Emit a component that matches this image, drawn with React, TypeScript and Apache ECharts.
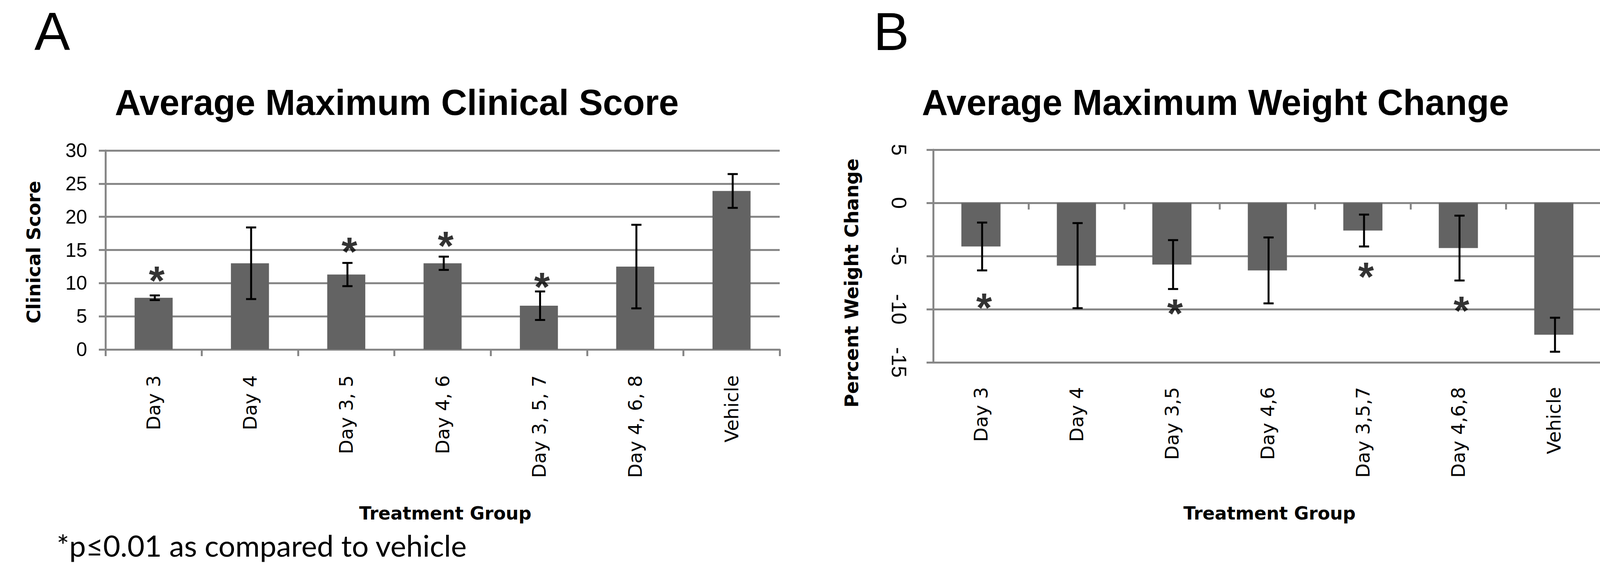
import React, { useEffect, useRef } from "react";
import * as echarts from "echarts";

// ---- Data ----
const scoreCategories = ["Day 3", "Day 4", "Day 3, 5", "Day 4, 6", "Day 3, 5, 7", "Day 4, 6, 8", "Vehicle"];
const scoreMeans = [7.8, 13.0, 11.3, 13.0, 6.6, 12.5, 23.9];
const scoreErrors = [0.35, 5.4, 1.75, 1.0, 2.15, 6.3, 2.55];
const scoreStars: (number | null)[] = [11.7, null, 16.1, 17.0, 10.8, null, null];
const scoreAxis = { min: 0, max: 30, interval: 5 };

const weightCategories = ["Day 3", "Day 4", "Day 3,5", "Day 4,6", "Day 3,5,7", "Day 4,6,8", "Vehicle"];
const weightMeans = [-4.1, -5.9, -5.8, -6.35, -2.6, -4.25, -12.4];
const weightErrors = [2.25, 4.0, 2.3, 3.1, 1.5, 3.05, 1.6];
const weightStars: (number | null)[] = [-9.0, null, -9.55, null, -6.1, -9.3, null];
const weightAxis = { min: -15, max: 5, interval: 5 };

const titleA = "Average Maximum Clinical Score";
const titleB = "Average Maximum Weight Change";
const yNameA = "Clinical Score";
const yNameB = "Percent Weight Change";
const xName = "Treatment Group";
const footnote = "*p≤0.01 as compared to vehicle";

// ---- Styles ----
const BAR = "#636363";
const GRID = "#878787";
const LW = 5;
const SANS = "Liberation Sans, Arial, sans-serif";
const WIDE = "DejaVu Sans, sans-serif";

const errorRender = (params: any, api: any) => {
  const i = api.value(0);
  const pLo = api.coord([i, api.value(1)]);
  const pHi = api.coord([i, api.value(2)]);
  const half = 13;
  const x = pLo[0] + 3;
  const style = { stroke: "#000", lineWidth: 5 };
  return {
    type: "group",
    children: [
      { type: "line", shape: { x1: x, y1: pLo[1], x2: x, y2: pHi[1] }, style },
      { type: "line", shape: { x1: x - half, y1: pLo[1], x2: x + half, y2: pLo[1] }, style },
      { type: "line", shape: { x1: x - half, y1: pHi[1], x2: x + half, y2: pHi[1] }, style },
    ],
  };
};

const starData = (arr: (number | null)[]) =>
  arr.map((v, i) => (v == null ? null : [i, v])).filter((d) => d != null);

const starSeries = (xi: number, yi: number, arr: (number | null)[]) => ({
  type: "scatter",
  xAxisIndex: xi,
  yAxisIndex: yi,
  data: starData(arr),
  symbolSize: 1,
  itemStyle: { color: "rgba(0,0,0,0)" },
  silent: true,
  z: 6,
  label: {
    show: true,
    position: "inside",
    formatter: "*",
    fontSize: 104,
    fontWeight: "bold",
    fontFamily: SANS,
    color: "#000",
    offset: [8, 23],
  },
});

const gtext = (text: string, x: number, y: number, fontSize: number, fontFamily: string, fontWeight: string, align: string, rotation = 0) => ({
  type: "text",
  x,
  y,
  rotation,
  silent: true,
  style: {
    text,
    fontSize,
    fontFamily,
    fontWeight,
    fill: "#000",
    align,
    verticalAlign: "middle",
    textAlign: align,
    textVerticalAlign: "middle",
  },
});

export default function App() {
  const ref = useRef<HTMLDivElement>(null);
  useEffect(() => {
    if (!ref.current) return;
    const chart = echarts.init(ref.current, null, { renderer: "svg" });
    const catLabel = { fontSize: 48, fontFamily: WIDE, color: "#000", rotate: 90, interval: 0 };
    const lineStyle = { color: GRID, width: LW };
    const option: any = {
      animation: false,
      backgroundColor: "#fff",
      grid: [
        { left: 270, top: 385, width: 1726, height: 509 },
        { left: 2389, top: 383, width: 1711, height: 544 },
      ],
      xAxis: [
        {
          gridIndex: 0,
          type: "category",
          data: scoreCategories,
          position: "bottom",
          axisLine: { lineStyle },
          axisTick: { show: true, length: 17, lineStyle },
          axisLabel: { ...catLabel, margin: 66 },
        },
        {
          gridIndex: 1,
          type: "category",
          data: weightCategories,
          position: "top",
          axisLine: { onZero: true, lineStyle },
          axisTick: { show: true, inside: true, length: 17, lineStyle },
          axisLabel: { show: false },
        },
        {
          gridIndex: 1,
          type: "category",
          data: weightCategories,
          position: "bottom",
          axisLine: { show: false, onZero: false },
          axisTick: { show: false },
          axisLabel: { ...catLabel, margin: 63 },
        },
      ],
      yAxis: [
        {
          gridIndex: 0,
          type: "value",
          ...scoreAxis,
          axisLine: { show: true, lineStyle },
          axisTick: { show: true, length: 17, lineStyle },
          splitLine: { show: true, lineStyle },
          axisLabel: { fontSize: 50, fontFamily: SANS, color: "#000", margin: 47 },
        },
        {
          gridIndex: 1,
          type: "value",
          ...weightAxis,
          axisLine: { show: true, onZero: false, lineStyle },
          axisTick: { show: true, length: 17, lineStyle },
          splitLine: { show: true, lineStyle },
          axisLabel: { fontSize: 54, fontFamily: SANS, color: "#000", margin: 60, rotate: -90 },
        },
      ],
      series: [
        {
          type: "bar",
          xAxisIndex: 0,
          yAxisIndex: 0,
          data: scoreMeans,
          barWidth: "39.5%",
          itemStyle: { color: BAR },
          silent: true,
        },
        {
          type: "custom",
          xAxisIndex: 0,
          yAxisIndex: 0,
          renderItem: errorRender,
          data: scoreMeans.map((m, i) => [i, m - scoreErrors[i], m + scoreErrors[i]]),
          encode: { x: 0, y: [1, 2] },
          silent: true,
          z: 5,
        },
        starSeries(0, 0, scoreStars),
        {
          type: "bar",
          xAxisIndex: 1,
          yAxisIndex: 1,
          data: weightMeans,
          barWidth: "41%",
          itemStyle: { color: BAR },
          silent: true,
        },
        {
          type: "custom",
          xAxisIndex: 1,
          yAxisIndex: 1,
          renderItem: errorRender,
          data: weightMeans.map((m, i) => [i, m - weightErrors[i], m + weightErrors[i]]),
          encode: { x: 0, y: [1, 2] },
          silent: true,
          z: 5,
        },
        starSeries(1, 1, weightStars),
      ],
      graphic: [
        gtext("A", 88, 80, 137, SANS, "normal", "left"),
        gtext("B", 2236, 80, 137, SANS, "normal", "left"),
        gtext(titleA, 294, 262, 92, SANS, "bold", "left"),
        gtext(titleB, 2360, 262, 92, SANS, "bold", "left"),
        gtext(yNameA, 86, 645, 48, WIDE, "bold", "center", Math.PI / 2),
        gtext(yNameB, 2180, 724, 48, WIDE, "bold", "center", Math.PI / 2),
        gtext(xName, 1140, 1313, 46, WIDE, "bold", "center"),
        gtext(xName, 3250, 1313, 46, WIDE, "bold", "center"),
        gtext(footnote, 145, 1394, 76, "Lato, sans-serif", "normal", "left"),
      ],
    };
    chart.setOption(option);
    return () => chart.dispose();
  }, []);
  return (
    <div
      ref={ref}
      style={{ position: "absolute", left: 0, top: 0, width: 4130, height: 1476, background: "#fff" }}
    />
  );
}
